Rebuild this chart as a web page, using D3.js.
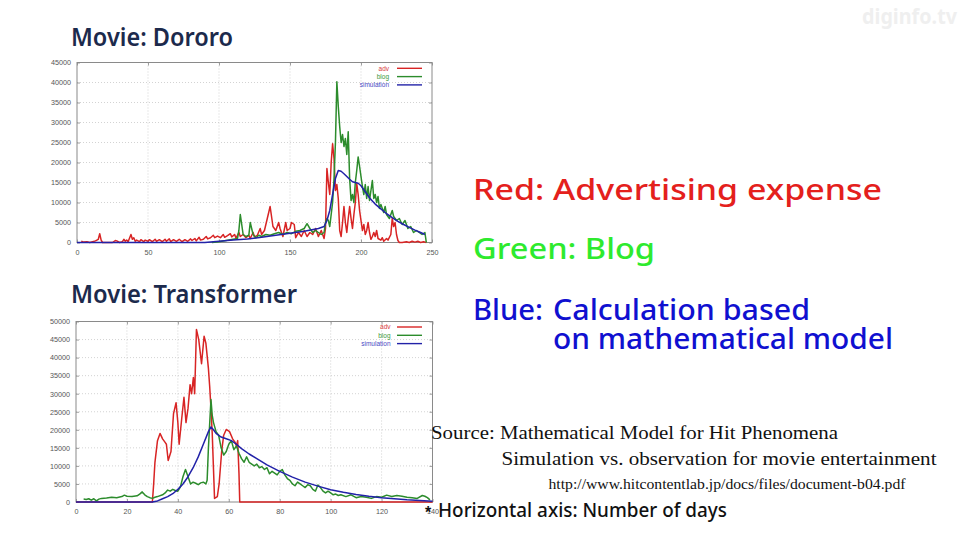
<!DOCTYPE html>
<html><head><meta charset="utf-8">
<script src="https://cdn.jsdelivr.net/npm/d3@7"></script>
<style>body{margin:0;background:#fff;overflow:hidden}svg{display:block}</style>
</head><body>
<svg id="c" width="971" height="533"></svg>
<script>
// ---------- Data: Movie Dororo ----------
const dororoXTicks = [0, 50, 100, 150, 200, 250];
const dororoYTicks = [0, 5000, 10000, 15000, 20000, 25000, 30000, 35000, 40000, 45000];
const dororoAdv = [[3,300],[5,100],[7,200],[9,0],[11,200],[13,400],[15,800],[16,2200],[17,600],[18,0],[20,0],[25,0],[27,500],[28,400],[30,0],[32,200],[33,800],[34,300],[35,600],[36,200],[38,2000],[39,800],[40,1200],[41,300],[42,600],[44,200],[45,700],[47,200],[48,600],[50,300],[51,700],[53,200],[55,800],[56,300],[58,700],[60,200],[62,800],[63,300],[65,900],[66,200],[68,700],[70,300],[72,800],[74,200],[76,700],[78,300],[80,900],[81,500],[83,1000],[84,400],[86,1300],[87,600],[89,800],[91,1500],[92,900],[94,1200],[96,1800],[97,1200],[99,1600],[101,1200],[103,2000],[104,1300],[106,1700],[108,2200],[109,1400],[111,2000],[112,1100],[114,2500],[115,1500],[117,2000],[119,1200],[121,1800],[122,1000],[124,2500],[125,1400],[127,1800],[129,3500],[130,2000],[132,3000],[134,6000],[136,9000],[137,6500],[138,4000],[140,3000],[142,5000],[143,3500],[145,1500],[147,5000],[148,3000],[150,3500],[151,5000],[153,4500],[154,1200],[156,2500],[158,1500],[160,3000],[162,1500],[164,2500],[166,2000],[168,3500],[170,1500],[172,3000],[174,1000],[175,3500],[176,18500],[177,15000],[178,12000],[179,20000],[180,24700],[181,21000],[182,13000],[183,14500],[184,11000],[185,3000],[186,1500],[187,5000],[188,9000],[189,5000],[190,2500],[191,6000],[192,9000],[193,6000],[194,3500],[195,7000],[196,10000],[197,14700],[198,12000],[199,8000],[200,5500],[201,3000],[202,4500],[203,2000],[204,3000],[205,5000],[206,2500],[207,800],[208,1500],[209,2500],[210,1500],[211,3000],[212,1000],[214,600],[215,1200],[216,300],[218,1000],[219,600],[221,2000],[222,6000],[223,4000],[224,5000],[225,2000],[226,500],[227,0],[229,0],[232,200],[234,0],[236,300],[238,100],[240,300],[242,0],[244,200],[246,0]];
const dororoBlog = [[95,0],[100,200],[105,500],[110,800],[113,1000],[114,3000],[115,7000],[116,4500],[117,2000],[119,1500],[121,1800],[122,5000],[123,3500],[124,2000],[126,1200],[128,1800],[130,1500],[133,2000],[136,1800],[139,2200],[142,2500],[145,2000],[148,2500],[151,2200],[154,2800],[157,3000],[160,3500],[162,4700],[164,3500],[166,2500],[168,3000],[170,2500],[172,2000],[174,2500],[175,5000],[176,6000],[177,5500],[178,4000],[179,7000],[180,10000],[181,16000],[182,25000],[183,40200],[184,34000],[185,29000],[186,25000],[187,27000],[188,24000],[189,26000],[190,22000],[191,27700],[192,16000],[193,10500],[194,12000],[195,10000],[196,15000],[197,18000],[198,21400],[199,19000],[200,16500],[201,14000],[202,12000],[203,14500],[204,11000],[205,14000],[206,10500],[207,13000],[208,15500],[209,11000],[210,12000],[211,10000],[212,11500],[213,8500],[214,9500],[216,7500],[217,9000],[218,7000],[220,6000],[222,8000],[223,6500],[225,5500],[227,6000],[229,4500],[231,5500],[233,3500],[235,4000],[237,2500],[239,3000],[241,2500],[243,2000],[245,2500],[246,0]];
const dororoSim = [[0,0],[90,0],[100,300],[110,600],[120,900],[130,1300],[140,1800],[150,2300],[160,2800],[170,3500],[174,4000],[176,5500],[178,8000],[180,12000],[182,16000],[184,18000],[186,17800],[188,17200],[190,16500],[192,15800],[194,15200],[196,15000],[198,14800],[200,14200],[202,13200],[204,12200],[206,11200],[208,10400],[210,9600],[214,8400],[218,7200],[222,6200],[226,5300],[230,4500],[234,3800],[238,3100],[242,2500],[245,2000]];

// ---------- Data: Movie Transformer ----------
const transXTicks = [0, 20, 40, 60, 80, 100, 120, 140];
const transYTicks = [0, 5000, 10000, 15000, 20000, 25000, 30000, 35000, 40000, 45000, 50000];
const transAdv = [[0,0],[30,0],[30.5,5000],[31,11000],[32,17000],[33,19000],[34,17500],[35,16500],[35.5,16000],[36.2,11500],[37.3,14000],[38.3,24500],[39.3,27500],[40,22000],[40.5,16000],[41.5,23000],[42.4,29000],[43.2,22000],[44,26000],[44.8,32500],[45.4,30000],[46.1,34500],[46.6,30000],[47.3,47800],[48.2,45000],[49.3,38300],[50.3,45900],[51,44000],[52,37000],[52.5,32000],[53,26000],[53.5,19000],[54,9000],[54.4,1000],[55.5,1500],[56.2,5000],[57.2,14000],[58,18500],[59,20100],[60.3,19500],[61.5,17500],[62.5,16500],[63,15500],[63.5,17000],[64,8000],[64.3,0],[140,0]];
const transBlog = [[3,800],[4,700],[5,900],[6,500],[7,900],[8,300],[9,800],[10,1000],[12,1100],[14,1300],[16,1200],[18,1500],[19,1900],[20,1600],[22,1500],[24,1700],[25,2200],[26,2800],[27,2000],[28,1500],[29,1200],[30,1000],[31,1300],[32,1500],[34,2000],[35,2500],[36,3300],[37,3000],[38,3500],[39,3200],[40,3000],[41,4200],[42,7000],[43,9000],[44,7000],[45,5000],[46,5500],[47,5200],[48,4800],[49,5300],[50,5500],[51,5000],[51.5,6000],[52,15000],[53,28400],[53.5,24000],[54,22000],[55,19500],[56,18500],[57,15000],[58,13000],[59,14000],[60,16000],[61,17000],[62,14500],[63,15500],[64,13500],[65,12000],[66,11000],[67,12500],[68,11000],[69,10500],[70,10000],[71,10500],[72,9500],[73,9800],[74,9000],[75,9500],[76,7800],[77,8500],[78,8000],[79,7500],[80,8500],[81,9000],[82,7500],[83,6500],[84,6000],[85,5000],[86,4500],[87,5500],[88,5000],[89,4500],[90,4000],[91,4800],[92,4500],[93,3500],[94,3000],[95,4700],[96,4000],[97,3000],[98,2500],[99,3000],[100,2500],[101,2000],[102,2200],[103,1800],[104,2000],[106,1500],[108,2000],[110,1200],[112,1500],[114,1300],[116,1000],[118,1500],[120,1300],[122,1900],[124,1500],[126,1800],[128,1600],[130,1300],[132,1200],[134,1000],[136,1800],[137,1600],[138,1200],[139,600]];
const transSim = [[0,0],[30,0],[32,300],[34,900],[36,1500],[38,2300],[40,3500],[42,5000],[44,7000],[46,9500],[48,12500],[50,16000],[52,19500],[53,20800],[54,20000],[55,19000],[57,18000],[59,17500],[61,17000],[63,16000],[65,14800],[68,13300],[71,12000],[75,10300],[80,8500],[85,6900],[90,5500],[95,4400],[100,3400],[105,2700],[110,2100],[115,1600],[120,1200],[125,900],[130,600],[135,400],[140,200]];

const legendLabels = ["adv", "blog", "simulation"];
const seriesColors = ["#d82424", "#2c8c2c", "#2222a8"];
const legendTextColors = ["#d84040", "#3c9a3c", "#4a4ac4"];

const svg = d3.select("#c");
svg.append("rect").attr("width", 971).attr("height", 533).attr("fill", "#fff");

function drawChart(cfg) {
  const x = d3.scaleLinear().domain(cfg.xDomain).range([cfg.left, cfg.right]);
  const y = d3.scaleLinear().domain(cfg.yDomain).range([cfg.bottom, cfg.top]);
  const g = svg.append("g");
  // grid
  g.selectAll(".gx").data(cfg.xTicks.slice(1, -1)).join("line")
    .attr("x1", d => x(d)).attr("x2", d => x(d)).attr("y1", cfg.top).attr("y2", cfg.bottom)
    .attr("stroke", "#c8c8c8").attr("stroke-width", 0.8).attr("stroke-dasharray", "1,2");
  g.selectAll(".gy").data(cfg.yTicks.slice(1, -1)).join("line")
    .attr("x1", cfg.left).attr("x2", cfg.right).attr("y1", d => y(d)).attr("y2", d => y(d))
    .attr("stroke", "#c8c8c8").attr("stroke-width", 0.8).attr("stroke-dasharray", "1,2");
  // axes
  const ax = g.append("g").attr("transform", `translate(0,${cfg.bottom})`)
    .call(d3.axisBottom(x).tickValues(cfg.xTicks).tickFormat(d3.format("d")).tickSize(-3).tickPadding(7));
  const ay = g.append("g").attr("transform", `translate(${cfg.left},0)`)
    .call(d3.axisLeft(y).tickValues(cfg.yTicks).tickFormat(d3.format("d")).tickSize(-3).tickPadding(6));
  g.append("g").attr("transform", `translate(0,${cfg.top})`)
    .call(d3.axisTop(x).tickValues(cfg.xTicks).tickFormat("").tickSize(-3));
  g.append("g").attr("transform", `translate(${cfg.right},0)`)
    .call(d3.axisRight(y).tickValues(cfg.yTicks).tickFormat("").tickSize(-3));
  g.selectAll(".domain").remove();
  g.selectAll(".tick line").attr("stroke", "#888").attr("stroke-width", 0.8);
  g.selectAll(".tick text").attr("fill", "#555").attr("font-size", 7.2)
    .attr("font-family", "Liberation Sans, Arial, sans-serif");
  g.append("rect").attr("x", cfg.left).attr("y", cfg.top)
    .attr("width", cfg.right - cfg.left).attr("height", cfg.bottom - cfg.top)
    .attr("fill", "none").attr("stroke", "#8a8a8a").attr("stroke-width", 1);
  // series
  const line = d3.line().x(d => x(d[0])).y(d => y(d[1]));
  cfg.series.forEach((s, i) => {
    g.append("path").datum(s).attr("d", line).attr("fill", "none")
      .attr("stroke", seriesColors[i]).attr("stroke-width", 1.5).attr("stroke-linejoin", "round");
  });
  // legend
  legendLabels.forEach((lab, i) => {
    const ly = cfg.legendY + i * 8.3;
    g.append("text").attr("x", cfg.legendTextX).attr("y", ly + 2.3).attr("text-anchor", "end")
      .attr("font-size", 6.5).attr("font-family", "Liberation Sans, Arial, sans-serif")
      .attr("fill", legendTextColors[i]).text(lab);
    g.append("line").attr("x1", cfg.legendLineX).attr("x2", cfg.legendLineX + 25)
      .attr("y1", ly).attr("y2", ly).attr("stroke", seriesColors[i]).attr("stroke-width", 1.4);
  });
  // title
  svg.append("text").attr("x", cfg.titleX).attr("y", cfg.titleY)
    .attr("font-family", "Noto Sans, Liberation Sans, sans-serif").attr("font-weight", 600)
    .attr("font-size", 25).attr("fill", "#1c2a4c")
    .attr("textLength", cfg.titleW).attr("lengthAdjust", "spacingAndGlyphs").text(cfg.title);
}

drawChart({
  title: "Movie: Dororo", titleX: 71, titleY: 46, titleW: 162,
  xDomain: [0, 250], yDomain: [0, 45000], xTicks: dororoXTicks, yTicks: dororoYTicks,
  left: 77, right: 432, top: 62.5, bottom: 242.5,
  series: [dororoAdv, dororoBlog, dororoSim],
  legendY: 68.3, legendTextX: 389, legendLineX: 397
});
drawChart({
  title: "Movie: Transformer", titleX: 71, titleY: 302.5, titleW: 226,
  xDomain: [0, 140], yDomain: [0, 50000], xTicks: transXTicks, yTicks: transYTicks,
  left: 76, right: 432.5, top: 321.5, bottom: 502,
  series: [transAdv, transBlog, transSim],
  legendY: 327, legendTextX: 390.5, legendLineX: 397
});

// Right-side explanation
const big = (txt, xx, yy, col, w) => svg.append("text").attr("x", xx).attr("y", yy)
  .attr("font-family", "Noto Sans, Liberation Sans, sans-serif").attr("font-weight", 500)
  .attr("font-size", 28).attr("fill", col)
  .attr("textLength", w).attr("lengthAdjust", "spacingAndGlyphs").text(txt);
big("Red: Advertising expense", 473, 200, "#e4201c", 409);
big("Green: Blog", 473, 258.5, "#2eea2e", 182);
big("Blue:", 473, 320, "#1010d0", 70);
big("Calculation based", 553, 320, "#1010d0", 257);
big("on mathematical model", 553, 348.5, "#1010d0", 340);

// Source
const serif = (txt, xx, yy, fs, w) => svg.append("text").attr("x", xx).attr("y", yy)
  .attr("font-family", "Liberation Serif, Times New Roman, serif").attr("font-size", fs)
  .attr("fill", "#111").attr("textLength", w).attr("lengthAdjust", "spacingAndGlyphs").text(txt);
serif("Source: Mathematical Model for Hit Phenomena", 431, 438.5, 19.5, 407);
serif("Simulation vs. observation for movie entertainment", 501.5, 464.5, 19.5, 435);
serif("http://www.hitcontentlab.jp/docs/files/document-b04.pdf", 548.5, 489, 14.5, 357);

svg.append("text").attr("x", 425).attr("y", 518).attr("font-family", "Liberation Sans, Arial, sans-serif")
  .attr("font-weight", 700).attr("font-size", 16).attr("fill", "#111").text("*");
svg.append("text").attr("x", 438).attr("y", 517).attr("font-family", "Noto Sans, Liberation Sans, sans-serif")
  .attr("font-weight", 500).attr("font-size", 20).attr("fill", "#111")
  .attr("textLength", 289).attr("lengthAdjust", "spacingAndGlyphs").text("Horizontal axis: Number of days");

// Watermark
svg.append("text").attr("x", 862).attr("y", 24).attr("font-family", "Noto Sans, Liberation Sans, sans-serif")
  .attr("font-weight", 700).attr("font-size", 21).attr("fill", "#efefef")
  .attr("textLength", 95).attr("lengthAdjust", "spacingAndGlyphs").text("diginfo.tv");
</script>
</body></html>
